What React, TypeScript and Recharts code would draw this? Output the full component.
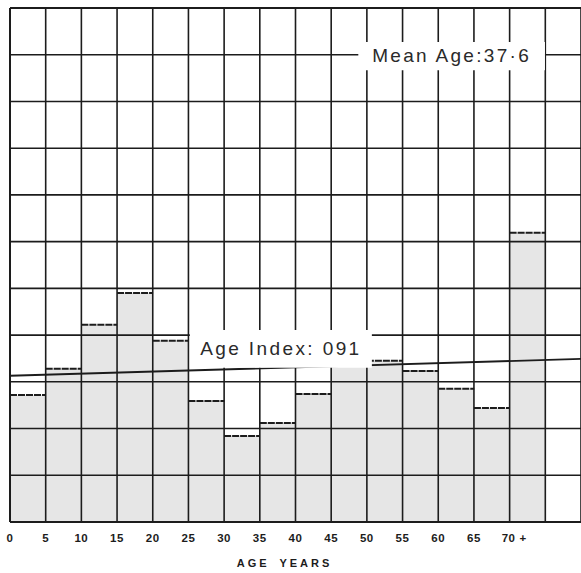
import React from "react";
import {
  BarChart,
  Bar,
  XAxis,
  YAxis,
  ReferenceLine,
  ReferenceArea,
} from "recharts";

// 5-year age groups; the last slot is an empty column on the right of the sheet
const ageGroups = ["0", "5", "10", "15", "20", "25", "30", "35", "40", "45", "50", "55", "60", "65", "70+", "75"];
const groupStarts = [0, 5, 10, 15, 20, 25, 30, 35, 40, 45, 50, 55, 60, 65, 70, 75];
const shares = [2.72, 3.28, 4.22, 4.9, 3.88, 2.59, 1.84, 2.12, 2.74, 3.38, 3.45, 3.23, 2.85, 2.44, 6.19, null];

const ageTicks = [0, 5, 10, 15, 20, 25, 30, 35, 40, 45, 50, 55, 60, 65, 70];
const gridX = [0, 5, 10, 15, 20, 25, 30, 35, 40, 45, 50, 55, 60, 65, 70, 75, 80];
const gridY = [0, 1, 2, 3, 4, 5, 6, 7, 8, 9, 10, 11];

// age index line, from age 0 to age 80
const indexLineX = [0, 80];
const indexLineY = [3.13, 3.49];

const meanAgeText = "Mean  Age:37·6";
const ageIndexText = "Age  Index: 091";
const axisTitle = "AGE YEARS";

const data = ageGroups.map((g, i) => ({
  group: g,
  start: groupStarts[i],
  value: shares[i],
}));

const INK = "#1c1c1c";
const SHADE = "#e6e6e6";
const FONT = "Liberation Sans, Arial, sans-serif";

function BarShape(props: any) {
  const { x, y, width, height } = props;
  if (!height || height <= 0) return null;
  return (
    <g>
      <rect x={x} y={y} width={width} height={height} fill={SHADE} />
      <line
        x1={x}
        x2={x + width}
        y1={y}
        y2={y}
        stroke={INK}
        strokeWidth={2}
        strokeDasharray="7 1"
      />
    </g>
  );
}

function AgeTick(props: any) {
  const { x, y, payload } = props;
  const isLast = payload.value === 70;
  return (
    <text
      x={isLast ? x - 8 : x}
      y={y - 18}
      textAnchor={isLast ? "start" : "middle"}
      fontFamily={FONT}
      fontWeight={700}
      fontSize={11.5}
      letterSpacing={0.6}
      fill={INK}
    >
      {isLast ? "70 +" : payload.value}
    </text>
  );
}

function BoxText(props: any) {
  const { viewBox, value, spacing } = props;
  return (
    <text
      x={viewBox.x + viewBox.width / 2}
      y={viewBox.y + viewBox.height / 2 + 1}
      textAnchor="middle"
      dominantBaseline="middle"
      fontFamily={FONT}
      fontSize={19}
      letterSpacing={spacing}
      fill="#2a2a2a"
    >
      {value}
    </text>
  );
}

// axis title, hung below the baseline of the plot
function AxisTitle(props: any) {
  const { viewBox } = props;
  return (
    <text
      x={viewBox.x + viewBox.width / 2 - 11}
      y={viewBox.y + 45}
      textAnchor="middle"
      fontFamily={FONT}
      fontWeight={700}
      fontSize={11}
      letterSpacing={3}
      wordSpacing={4}
      fill={INK}
    >
      {axisTitle}
    </text>
  );
}

export default function App() {
  return (
    <div style={{ position: "absolute", left: 0, top: 0, background: "#fff" }}>
      <BarChart
        width={581}
        height={573}
        data={data}
        margin={{ top: 8, right: 0, bottom: 0, left: 10 }}
        barCategoryGap={0}
        barGap={0}
      >
        <XAxis xAxisId="cat" dataKey="group" hide />
        <XAxis
          xAxisId="num"
          dataKey="start"
          type="number"
          domain={[0, 80]}
          allowDataOverflow
          ticks={ageTicks}
          height={51}
          axisLine={false}
          tickLine={false}
          tick={<AgeTick />}
          interval={0}
        />
        <YAxis hide type="number" domain={[0, 11]} allowDataOverflow />
        <Bar
          xAxisId="cat"
          dataKey="value"
          isAnimationActive={false}
          shape={<BarShape />}
        />
        {gridX.map((v) => (
          <ReferenceLine
            key={"gx" + v}
            xAxisId="num"
            x={v}
            stroke={INK}
            strokeWidth={v === 0 ? 2 : 1.6}
            ifOverflow="visible"
          />
        ))}
        {gridY.map((v) => (
          <ReferenceLine
            key={"gy" + v}
            xAxisId="num"
            y={v}
            stroke={INK}
            strokeWidth={v === 0 || v === 11 ? 2 : 1.6}
            ifOverflow="visible"
            label={v === 0 ? <AxisTitle /> : undefined}
          />
        ))}
        <ReferenceLine
          xAxisId="num"
          segment={[
            { x: indexLineX[0], y: indexLineY[0] },
            { x: indexLineX[1], y: indexLineY[1] },
          ]}
          stroke={INK}
          strokeWidth={1.8}
          ifOverflow="visible"
        />
        <ReferenceArea
          xAxisId="num"
          x1={48.8}
          x2={74.95}
          y1={9.67}
          y2={10.27}
          fill="#fff"
          fillOpacity={1}
          stroke="none"
          zIndex={900}
          label={<BoxText value={meanAgeText} spacing={2.3} />}
        />
        <ReferenceArea
          xAxisId="num"
          x1={25.2}
          x2={50.7}
          y1={3.3}
          y2={4.11}
          fill="#fff"
          fillOpacity={1}
          stroke="none"
          zIndex={900}
          label={<BoxText value={ageIndexText} spacing={2.4} />}
        />
      </BarChart>
    </div>
  );
}
